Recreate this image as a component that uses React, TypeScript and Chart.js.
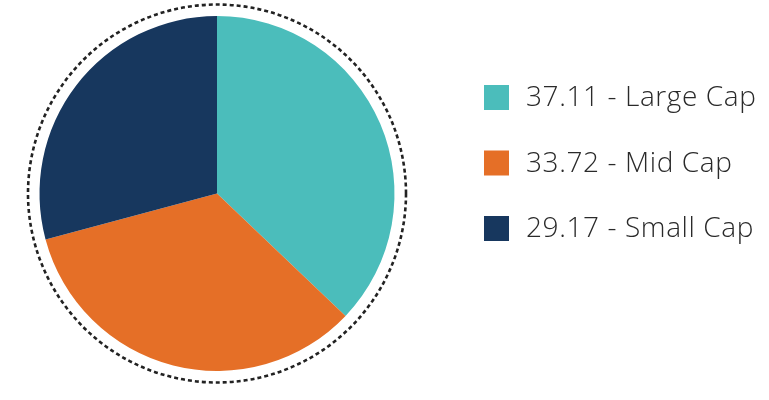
import React, { useEffect, useRef } from "react";
import { Chart, registerables } from "chart.js";

Chart.register(...registerables);

const categories = ["Large Cap", "Mid Cap", "Small Cap"];
const values = [37.11, 33.72, 29.17];
const colors = ["#4BBDBB", "#E56F27", "#17375E"];

const dottedRing = {
  id: "dottedRing",
  afterDraw(chart: any) {
    const meta = chart.getDatasetMeta(0);
    const arc = meta.data[0];
    if (!arc) return;
    const { x, y, outerRadius } = arc;
    const ctx = chart.ctx;
    ctx.save();
    ctx.beginPath();
    ctx.setLineDash([4, 3]);
    ctx.lineWidth = 2.6;
    ctx.strokeStyle = "#222222";
    ctx.arc(x, y, outerRadius + 11.5, 0, Math.PI * 2);
    ctx.stroke();
    ctx.restore();
  },
};

const sideLegend = {
  id: "sideLegend",
  afterDraw(chart: any) {
    const ctx = chart.ctx;
    ctx.save();
    const boxX = 484;
    const box = 25;
    const textX = 526;
    const startY = 97.5;
    const gap = 65.5;
    ctx.font = "300 28px 'Open Sans'";
    try {
      (ctx as any).letterSpacing = "0.6px";
    } catch (e) {}
    ctx.textBaseline = "middle";
    ctx.textAlign = "left";
    categories.forEach((c, i) => {
      const cy = startY + i * gap;
      ctx.fillStyle = colors[i];
      ctx.fillRect(boxX, cy - box / 2, box, box);
      ctx.fillStyle = "#2A2A2A";
      ctx.fillText(`${values[i].toFixed(2)} - ${c}`, textX, cy + 1);
    });
    ctx.restore();
  },
};

export default function App() {
  const ref = useRef<HTMLCanvasElement>(null);
  useEffect(() => {
    if (!ref.current) return;
    const chart = new Chart(ref.current, {
      type: "pie",
      data: {
        labels: categories,
        datasets: [
          {
            data: values,
            backgroundColor: colors,
            borderWidth: 0,
          },
        ],
      },
      options: {
        animation: false,
        responsive: true,
        maintainAspectRatio: false,
        layout: { padding: { left: 39.5, top: 15.5, right: 374.5, bottom: 28.5 } },
        plugins: {
          legend: { display: false },
          tooltip: { enabled: false },
        },
      },
      plugins: [dottedRing, sideLegend],
    });
    return () => chart.destroy();
  }, []);
  return (
    <div style={{ position: "fixed", left: 0, top: 0, width: 769, height: 400, background: "#fff" }}>
      <canvas ref={ref} />
    </div>
  );
}
